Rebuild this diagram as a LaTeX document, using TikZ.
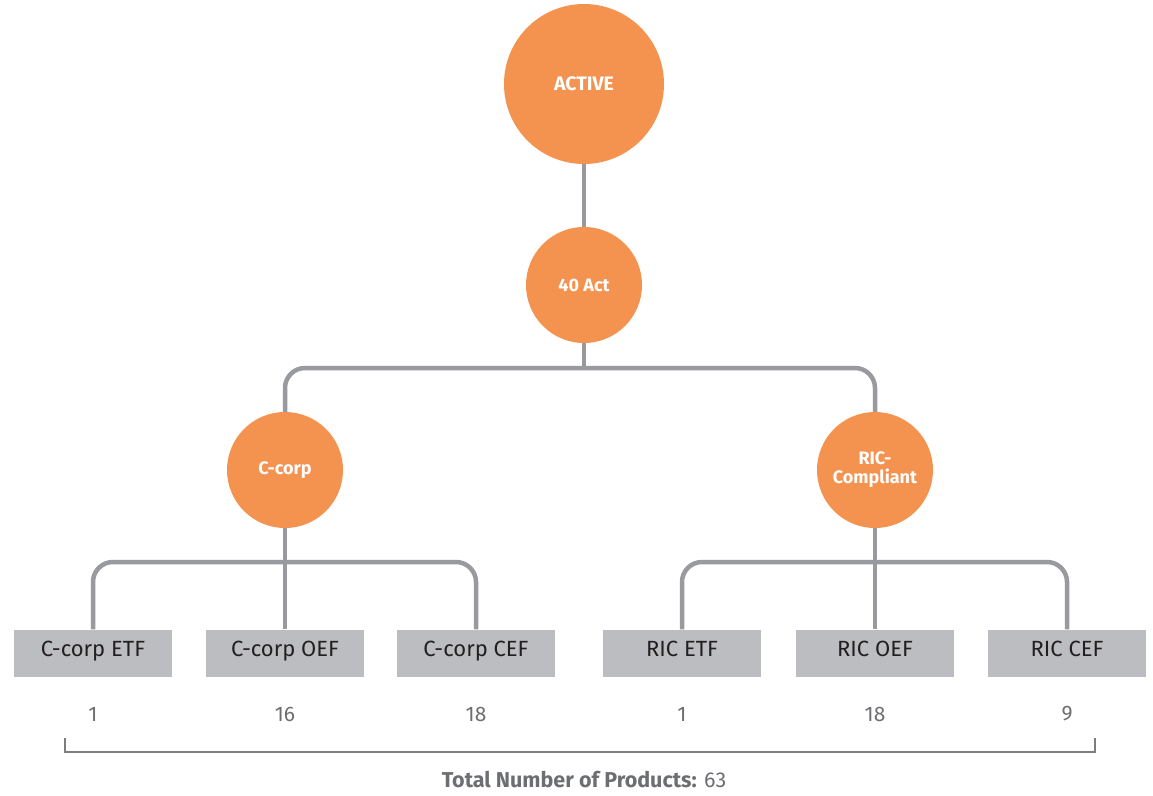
\documentclass[tikz,border=0pt]{standalone}
\usepackage{fontspec}
\setmainfont{Fira Sans}
\usetikzlibrary{positioning, calc}
\definecolor{fundorange}{HTML}{F4924F}
\definecolor{linkgrey}{HTML}{999A9E}
\definecolor{boxgrey}{HTML}{BCBDC0}
\definecolor{textdark}{HTML}{231F20}
\definecolor{textgrey}{HTML}{6D6E71}
\begin{document}
\begin{tikzpicture}[
        x=1pt, y=-1pt,
        circ/.style={circle, fill=fundorange, inner sep=0pt, text=white,
            font=\fontsize{18}{19}\selectfont\bfseries, align=center},
        bigcirc/.style={circ, minimum size=160pt, font=\fontsize{19.5}{20}\selectfont\bfseries},
        smallcirc/.style={circ, minimum size=116pt},
        fund/.style={rectangle, fill=boxgrey, minimum width=158pt, minimum height=47pt,
            inner sep=0pt, text=textdark, text height=0.78em, text depth=0pt,
            font=\fontsize{22}{24}\selectfont},
        count/.style={text=textgrey, font=\fontsize{21}{23}\selectfont},
        link/.style={draw=linkgrey, line width=4.5pt, rounded corners=20pt},
        bracket/.style={draw=textgrey!90, line width=2.5pt},
        ]
        \useasboundingbox (0,0) rectangle (1153,795);

        % Top levels
        \node[bigcirc] (active) at (584,84) {ACTIVE};
        \node[smallcirc] (act40) at (584,285) {40 Act};
        \node[smallcirc] (ccorp) at (285,470) {C-corp};
        \node[smallcirc] (ric) at (875,470) {RIC-\\Compliant};

        % Fund boxes
        \node[fund] (etfC) at (93,653) {C-corp ETF};
        \node[fund] (oefC) at (285,653) {C-corp OEF};
        \node[fund] (cefC) at (476,653) {C-corp CEF};
        \node[fund] (etfR) at (682,653) {RIC ETF};
        \node[fund] (oefR) at (875,653) {RIC OEF};
        \node[fund] (cefR) at (1067,653) {RIC CEF};

        % Counts
        \node[count] (nEtfC) at (etfC |- 0,714) {1};
        \node[count] (nOefC) at (oefC |- 0,714) {16};
        \node[count] (nCefC) at (cefC |- 0,714) {18};
        \node[count] (nEtfR) at (etfR |- 0,714) {1};
        \node[count] (nOefR) at (oefR |- 0,714) {18};
        \node[count] (nCefR) at (cefR |- 0,714) {9};

        % Tree links
        \coordinate (split0) at (584,368);
        \coordinate (splitC) at (285,562);
        \coordinate (splitR) at (875,562);
        \draw[link] (active) -- (act40);
        \draw[link] (act40) -- (split0);
        \draw[link] (ccorp.north) |- (split0) -| (ric.north);
        \draw[link] (ccorp) -- (oefC);
        \draw[link] (etfC.north) |- (splitC) -| (cefC.north);
        \draw[link] (ric) -- (oefR);
        \draw[link] (etfR.north) |- (splitR) -| (cefR.north);

        % Total bracket
        \coordinate (bl) at (65,738);
        \coordinate (br) at (1095,738);
        \draw[bracket] (bl) -- ++(0,14) -| (br);
        \node[text=textgrey, font=\fontsize{21.5}{23}\selectfont] (total) at (584,780)
        {\textbf{Total Number of Products:} 63};
    \end{tikzpicture}
\end{document}
